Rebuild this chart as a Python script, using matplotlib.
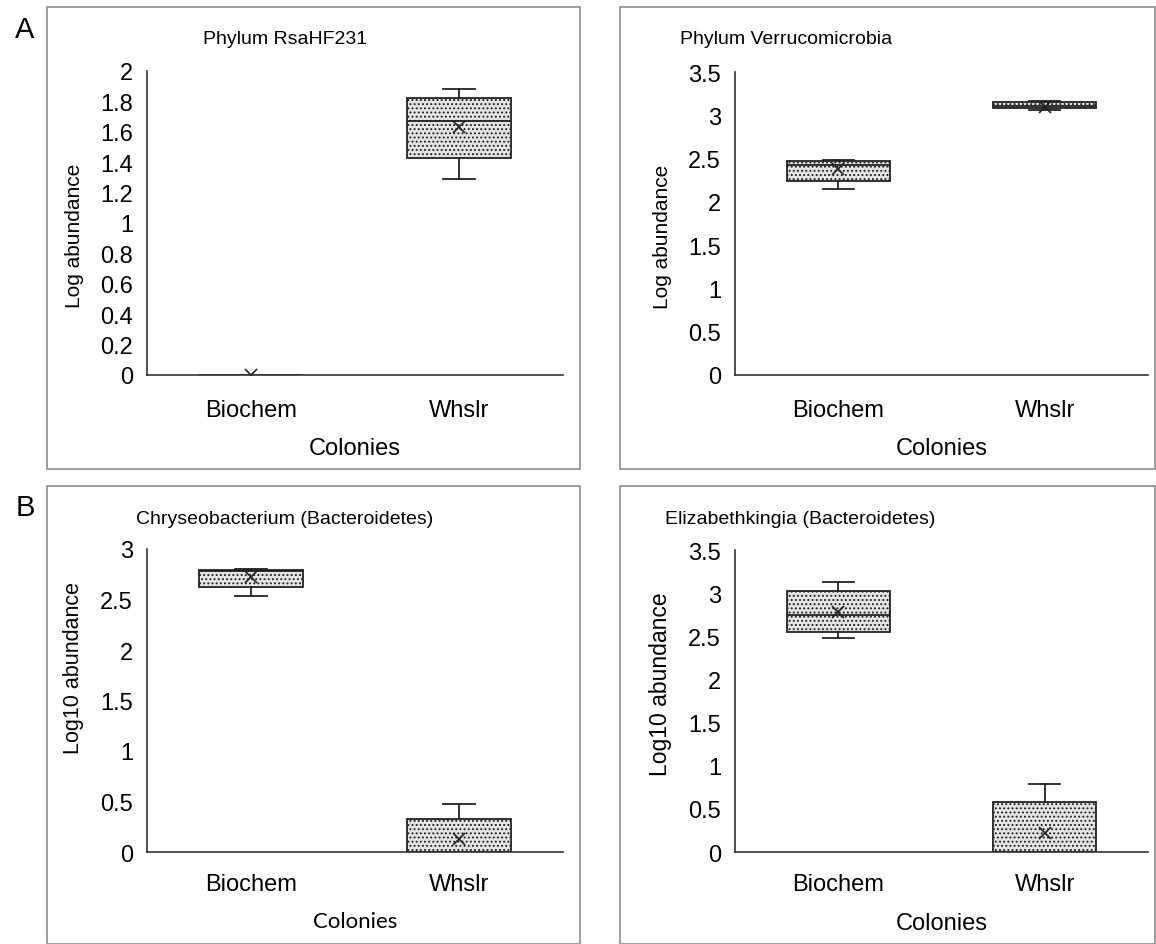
import matplotlib
matplotlib.use("Agg")
import matplotlib.pyplot as plt
from matplotlib.patches import Rectangle

plt.rcParams['font.family'] = ['Liberation Sans', 'DejaVu Sans']
plt.rcParams['hatch.color'] = '#8e8e8e'
plt.rcParams['hatch.linewidth'] = 0.9

colonies = ['Biochem', 'Whslr']

# box stats per panel: [Biochem, Whslr]
rsa_q1 = [0.0, 1.43]
rsa_med = [0.0, 1.67]
rsa_q3 = [0.0, 1.82]
rsa_lo = [0.0, 1.29]
rsa_hi = [0.0, 1.88]
rsa_mean = [0.0, 1.63]

ver_q1 = [2.24, 3.08]
ver_med = [2.43, 3.11]
ver_q3 = [2.47, 3.15]
ver_lo = [2.15, 3.06]
ver_hi = [2.48, 3.17]
ver_mean = [2.38, 3.10]

chr_q1 = [2.62, 0.0]
chr_med = [2.78, 0.0]
chr_q3 = [2.79, 0.33]
chr_lo = [2.53, 0.0]
chr_hi = [2.80, 0.48]
chr_mean = [2.72, 0.13]

eli_q1 = [2.55, 0.0]
eli_med = [2.75, 0.0]
eli_q3 = [3.02, 0.58]
eli_lo = [2.48, 0.0]
eli_hi = [3.13, 0.79]
eli_mean = [2.78, 0.22]


def makeStats(q1, med, q3, lo, hi, mean):
    """
    组装 bxp 需要的统计量
    """
    stats = []
    for i in range(len(colonies)):
        stats.append({'q1': q1[i], 'med': med[i], 'q3': q3[i],
                      'whislo': lo[i], 'whishi': hi[i], 'mean': mean[i],
                      'label': colonies[i], 'fliers': []})
    return stats


W, H = 1156, 945
fig = plt.figure(figsize=(W / 100, H / 100), dpi=100)


def px(x0, y0, x1, y1):
    return [x0 / W, 1 - y1 / H, (x1 - x0) / W, (y1 - y0) / H]


panels = [
    # stats, title, ylabel, ticks, frame, axes, title pos, xlabel font/size, ylabel size/pos, tick pad
    (makeStats(rsa_q1, rsa_med, rsa_q3, rsa_lo, rsa_hi, rsa_mean),
     'Phylum RsaHF231', 'Log abundance', [i * 0.2 for i in range(11)],
     (47, 8, 580, 470), (147, 72, 563, 376), (285, 40), 'Liberation Sans', 17, 15, 0.46, 17),
    (makeStats(ver_q1, ver_med, ver_q3, ver_lo, ver_hi, ver_mean),
     'Phylum Verrucomicrobia', 'Log abundance', [i * 0.5 for i in range(8)],
     (620, 8, 1155, 470), (735, 73, 1148, 376), (786, 40), 'Liberation Sans', 17, 15, 0.46, 17),
    (makeStats(chr_q1, chr_med, chr_q3, chr_lo, chr_hi, chr_mean),
     'Chryseobacterium (Bacteroidetes)', 'Log10 abundance', [i * 0.5 for i in range(7)],
     (47, 487, 580, 945), (147, 550, 563, 853), (285, 519), 'Lato', 16, 15.5, 0.61, 15),
    (makeStats(eli_q1, eli_med, eli_q3, eli_lo, eli_hi, eli_mean),
     'Elizabethkingia (Bacteroidetes)', 'Log10 abundance', [i * 0.5 for i in range(8)],
     (620, 487, 1155, 945), (735, 551, 1148, 853), (800, 519), 'Liberation Sans', 17, 16.5, 0.56, 15),
]

for stats, title, ylab, ticks, frame, box, tpos, xfont, xsize, ysize, ypos, tpad in panels:
    fig.add_artist(Rectangle((frame[0] / W, 1 - frame[3] / H),
                             (frame[2] - frame[0]) / W, (frame[3] - frame[1]) / H,
                             transform=fig.transFigure, fill=False,
                             edgecolor='#8c8c8c', linewidth=1.2))
    ax = fig.add_axes(px(*box))
    bp = ax.bxp(stats, positions=[1, 2], widths=0.5, capwidths=0.15,
                showmeans=True, patch_artist=True, showfliers=False,
                boxprops=dict(facecolor='#e4e4e4', edgecolor='#222222',
                              linewidth=1.3, hatch='....'),
                medianprops=dict(color='#222222', linewidth=1.3),
                whiskerprops=dict(color='#222222', linewidth=1.3),
                capprops=dict(color='#222222', linewidth=1.3),
                meanprops=dict(marker='x', markeredgecolor='#222222',
                               markersize=9, markeredgewidth=1.2))
    ax.set_xlim(0.5, 2.5)
    ax.set_ylim(0, ticks[-1])
    ax.set_yticks(ticks)
    ax.set_yticklabels(['%g' % round(t, 1) for t in ticks])
    ax.set_xticks([1, 2])
    ax.set_xticklabels(colonies)
    for s in ['top', 'right']:
        ax.spines[s].set_visible(False)
    for s in ['left', 'bottom']:
        ax.spines[s].set_color('#333333')
        ax.spines[s].set_linewidth(1.2)
    ax.tick_params(axis='y', length=0, pad=10, labelsize=17)
    ax.tick_params(axis='x', length=0, pad=tpad, labelsize=17)
    ax.set_xlabel('Colonies', fontsize=xsize, family=xfont, labelpad=12)
    ax.set_ylabel(ylab, fontsize=ysize, labelpad=12)
    ax.yaxis.label.set_y(ypos)
    fig.text(tpos[0] / W, 1 - tpos[1] / H, title, ha='center', va='center', fontsize=14)

fig.text(25 / W, 1 - 30 / H, 'A', ha='center', va='center', fontsize=21)
fig.text(25 / W, 1 - 508 / H, 'B', ha='center', va='center', fontsize=21)

fig.savefig('out.png', dpi=100)
